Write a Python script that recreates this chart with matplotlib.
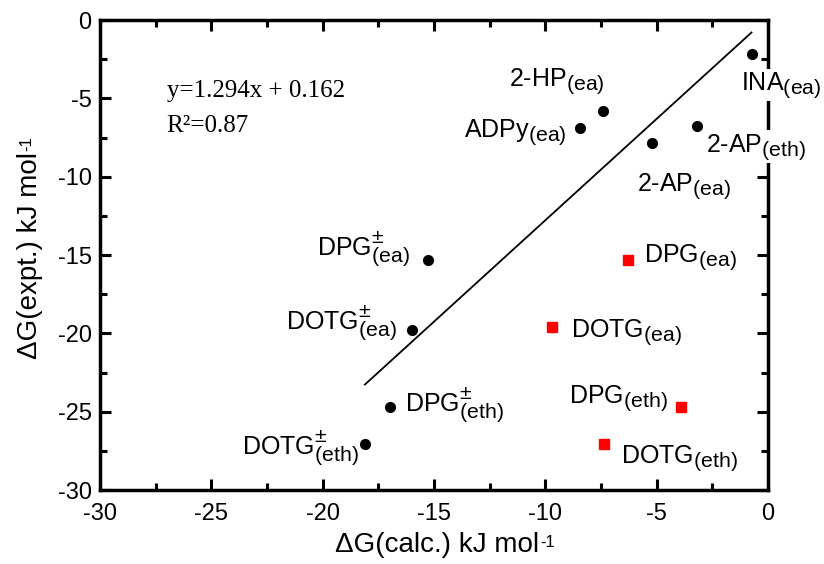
import matplotlib
matplotlib.use("Agg")
import matplotlib.pyplot as plt
import matplotlib._mathtext as _mt
import numpy as np

# larger sub/superscripts, like the reference
_mt.SHRINK_FACTOR = 0.85

plt.rcParams['font.family'] = ['Liberation Sans', 'DejaVu Sans']
plt.rcParams['mathtext.fontset'] = 'custom'
plt.rcParams['mathtext.rm'] = 'Liberation Sans'
plt.rcParams['mathtext.it'] = 'Liberation Sans:italic'
plt.rcParams['mathtext.bf'] = 'Liberation Sans:bold'
plt.rcParams['axes.unicode_minus'] = False

# ---- data ----
ion_names = [r"INA$_{\mathregular{(ea)}}$", r"2-HP$_{\mathregular{(ea)}}$", r"ADPy$_{\mathregular{(ea)}}$",
             r"2-AP$_{\mathregular{(eth)}}$", r"2-AP$_{\mathregular{(ea)}}$",
             r"DPG$^{\pm}_{\mathregular{(ea)}}$", r"DOTG$^{\pm}_{\mathregular{(ea)}}$",
             r"DPG$^{\pm}_{\mathregular{(eth)}}$", r"DOTG$^{\pm}_{\mathregular{(eth)}}$"]
ion_calc = [-0.7, -7.4, -8.43, -3.2, -5.2, -15.28, -15.98, -16.98, -18.09]
ion_expt = [-2.2, -5.81, -6.91, -6.79, -7.87, -15.32, -19.78, -24.68, -27.06]

neu_names = [r"DPG$_{\mathregular{(ea)}}$", r"DOTG$_{\mathregular{(ea)}}$",
             r"DPG$_{\mathregular{(eth)}}$", r"DOTG$_{\mathregular{(eth)}}$"]
neu_calc = [-6.3, -9.7, -3.9, -7.36]
neu_expt = [-15.32, -19.57, -24.68, -27.06]

fit_slope = 1.294
fit_intercept = 0.162
fit_xrange = [-18.1, -0.74]
r2 = 0.87

# label offsets (points) and alignment
ion_offsets = [((-8, -25.5), 'left'), ((-68, 18), 'left'), ((-10, -6), 'right'),
               ((7, -18), 'left'), ((-11, -34), 'left'),
               ((-13, 3), 'right'), ((-11, 0), 'right'),
               ((11, -4), 'left'), ((-4.5, -8), 'right')]
neu_offsets = [((12, -1), 'left'), ((14, -7), 'left'),
               ((-9.5, 2.7), 'right'), ((12.2, -13.4), 'left')]

fig = plt.figure(figsize=(8.24, 5.64), dpi=100)
ax = fig.add_axes([0.1214, 0.131, 0.8106, 0.8335])

xf = np.array(fit_xrange)
ax.plot(xf, fit_slope * xf + fit_intercept, color='black', lw=1.3, zorder=2)
ax.plot(ion_calc, ion_expt, 'o', color='black', ms=7, zorder=3)
ax.plot(neu_calc, neu_expt, 's', color='#ff0000', ms=7, zorder=3)

lab_fs = 18
for n, x, y, (off, ha) in zip(ion_names + neu_names, ion_calc + neu_calc,
                              ion_expt + neu_expt, ion_offsets + neu_offsets):
    ax.annotate(n, (x, y), xytext=off, textcoords='offset points', ha=ha, va='baseline',
                fontsize=lab_fs, zorder=5, annotation_clip=False,
                bbox=dict(boxstyle='square,pad=0.05', fc='white', ec='none'))

ax.text(0.0998, 0.837, f"y={fit_slope}x + {fit_intercept}", transform=ax.transAxes,
        family='Liberation Serif', fontsize=18, va='baseline')
ax.text(0.0998, 0.762, f"R²={r2}", transform=ax.transAxes,
        family='Liberation Serif', fontsize=18, va='baseline')

ax.set_xlim(-30, 0)
ax.set_ylim(-30, 0)
ax.set_xticks(np.arange(-30, 1, 5))
ax.set_yticks(np.arange(-30, 1, 5))
ax.set_xticks(np.arange(-27.5, 0, 5), minor=True)
ax.set_yticks(np.arange(-27.5, 0, 5), minor=True)
ax.tick_params(which='both', direction='in', top=True, right=True, width=2.2, labelsize=17)
ax.tick_params(which='major', length=8)
ax.tick_params(axis='x', which='major', pad=9)
ax.tick_params(axis='y', which='major', pad=6)
ax.tick_params(which='minor', length=5)
for s in ax.spines.values():
    s.set_linewidth(2.5)

# axis labels with small "-1" superscript
xl = ax.text(0.505, -0.117, "ΔG(calc.) kJ mol", transform=ax.transAxes,
             ha='center', va='center', fontsize=20)
ax.annotate("-1", xy=(1, 1), xycoords=xl, xytext=(0.5, -2), textcoords='offset points',
            ha='left', va='top', fontsize=12)
yl = ax.text(-0.105, 0.5, "ΔG(expt.) kJ mol", transform=ax.transAxes,
             ha='center', va='center', rotation=90, fontsize=20)
ax.annotate("-1", xy=(0, 1), xycoords=yl, xytext=(2, 0.5), textcoords='offset points',
            ha='left', va='bottom', rotation=90, fontsize=12)

fig.savefig("out.png", dpi=100)
